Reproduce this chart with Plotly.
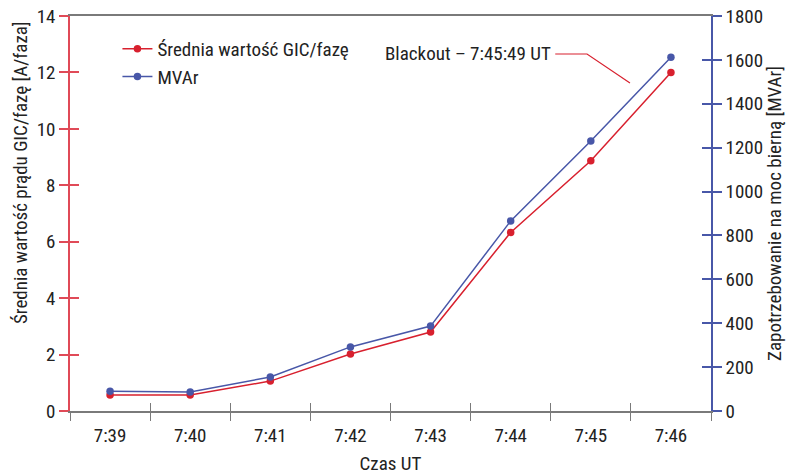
import plotly.graph_objects as go

categories = ["7:39", "7:40", "7:41", "7:42", "7:43", "7:44", "7:45", "7:46"]
gic_values = [0.57, 0.57, 1.06, 2.02, 2.80, 6.33, 8.87, 12.0]
mvar_values = [90, 87, 155, 292, 387, 866, 1230, 1612]
left_ticks = [0, 2, 4, 6, 8, 10, 12, 14]
right_ticks = [0, 200, 400, 600, 800, 1000, 1200, 1400, 1600, 1800]

RED = "#d8202e"
RED_AX = "#e04a57"
BLUE = "#4857a8"
GRAY = "#7a7a7a"
FONT = "Roboto Condensed, Liberation Sans Narrow, Arial Narrow, Roboto, sans-serif"
FS = 19

fig = go.Figure()
fig.add_trace(go.Scatter(x=categories, y=gic_values, name="Średnia wartość GIC/fazę",
                         mode="lines+markers", line=dict(color=RED, width=1.5),
                         marker=dict(color=RED, size=7.5), xaxis="x", yaxis="y"))
fig.add_trace(go.Scatter(x=categories, y=mvar_values, name="MVAr",
                         mode="lines+markers", line=dict(color=BLUE, width=1.5),
                         marker=dict(color=BLUE, size=7.5), xaxis="x", yaxis="y2"))
# invisible helper traces for inside tick overlays
fig.add_trace(go.Scatter(x=[None], y=[None], xaxis="x2", yaxis="y3", showlegend=False, hoverinfo="skip"))
fig.add_trace(go.Scatter(x=[None], y=[None], xaxis="x2", yaxis="y4", showlegend=False, hoverinfo="skip"))

tickfont = dict(family=FONT, size=FS, color="#222")
fig.update_layout(
    width=791, height=475,
    margin=dict(l=70, r=80, t=16, b=64, autoexpand=False),
    paper_bgcolor="white", plot_bgcolor="white",
    font=dict(family=FONT, size=FS, color="#222"),
    showlegend=True,
    legend=dict(x=0.074, y=0.965, xanchor="left", yanchor="top", bgcolor="rgba(0,0,0,0)",
                font=dict(family=FONT, size=FS, color="#222"), tracegroupgap=0),
    xaxis=dict(type="category", categoryorder="array", categoryarray=categories,
               range=[-0.5, 7.5], tickson="boundaries", ticks="outside", ticklen=8,
               tickcolor=GRAY, showline=True, linecolor=GRAY, linewidth=1.5, mirror=True,
               showgrid=False, zeroline=False, tickfont=tickfont, automargin=False,
               ticklabelstandoff=6,
               title=dict(text="Czas UT", font=dict(family=FONT, size=FS), standoff=16)),
    xaxis2=dict(overlaying="x", anchor="y", range=[-0.5, 7.5], automargin=False,
                tickvals=[0.5, 1.5, 2.5, 3.5, 4.5, 5.5, 6.5], ticks="inside", ticklen=8,
                tickcolor=GRAY, showticklabels=False, showline=False, showgrid=False, zeroline=False),
    yaxis=dict(range=[0, 14], tickvals=left_ticks, ticks="outside", ticklen=9, tickcolor=RED_AX,
               tickwidth=1.5, showline=True, linecolor=RED_AX, linewidth=1.5, showgrid=False,
               zeroline=False, tickfont=tickfont, automargin=False),
    yaxis2=dict(range=[0, 1800], tickvals=right_ticks, overlaying="y", side="right", anchor="x",
                ticks="outside", ticklen=9, tickcolor=BLUE, tickwidth=1.5, showline=True,
                linecolor=BLUE, linewidth=1.5, showgrid=False, zeroline=False, tickfont=tickfont,
                automargin=False,
                title=dict(text="Zapotrzebowanie na moc bierną [MVAr]", font=dict(family=FONT, size=FS), standoff=0)),
    yaxis3=dict(range=[0, 14], tickvals=left_ticks, overlaying="y", side="left", anchor="x2",
                ticks="inside", ticklen=9, tickcolor=RED_AX, tickwidth=1.5, showticklabels=False,
                showline=False, showgrid=False, zeroline=False, automargin=False),
    yaxis4=dict(range=[0, 1800], tickvals=right_ticks, overlaying="y", side="right", anchor="x2",
                ticks="inside", ticklen=9, tickcolor=BLUE, tickwidth=1.5, showticklabels=False,
                showline=False, showgrid=False, zeroline=False, automargin=False),
)

fig.add_annotation(text="Średnia wartość prądu GIC/fazę [A/faza]", xref="paper", yref="paper",
                   x=-0.078, y=0.6025, xanchor="center", yanchor="middle", textangle=-90,
                   showarrow=False, font=dict(family=FONT, size=FS, color="#222"))
fig.add_annotation(text="Blackout – 7:45:49 UT", xref="paper", yref="paper",
                   x=0.754, y=0.904, xanchor="right", yanchor="middle", showarrow=False,
                   font=dict(family=FONT, size=FS, color="#222"))
fig.add_shape(type="path", xref="paper", yref="paper",
              path="M 0.757 0.9038 L 0.8066 0.9038 L 0.8736 0.8304",
              line=dict(color=RED, width=1.2))

fig.write_html("out.html", config={"displayModeBar": False},
               post_script="document.body.style.margin='0';")
